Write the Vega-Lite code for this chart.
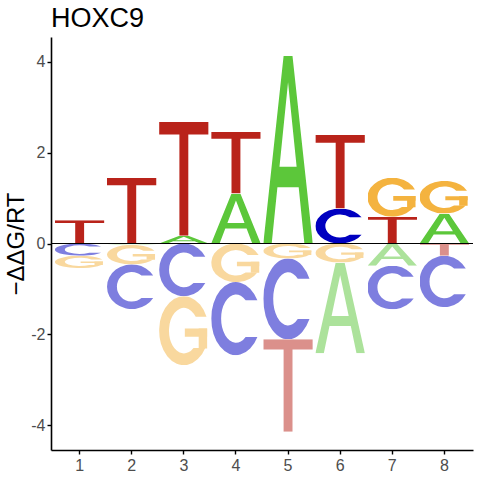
{
  "$schema": "https://vega.github.io/schema/vega-lite/v6.json",
  "description": "Energy logo for HOXC9, letter heights are -ddG/RT per position.",
  "autosize": "none",
  "width": 422,
  "height": 413,
  "padding": {"left": 51, "top": 37, "right": 7, "bottom": 30},
  "config": {
    "font": "Liberation Sans",
    "view": {"stroke": null}
  },
  "title": {
    "text": "HOXC9",
    "anchor": "start",
    "frame": "group",
    "fontSize": 27,
    "fontWeight": "normal",
    "color": "black",
    "offset": 4
  },
  "datasets": {
    "logo": [
      {"pos": 1, "letter": "T", "value": 0.51},
      {"pos": 1, "letter": "C", "value": -0.27},
      {"pos": 1, "letter": "G", "value": -0.27},
      {"pos": 2, "letter": "T", "value": 1.445},
      {"pos": 2, "letter": "A", "value": -0.03},
      {"pos": 2, "letter": "G", "value": -0.43},
      {"pos": 2, "letter": "C", "value": -0.985},
      {"pos": 3, "letter": "A", "value": 0.17},
      {"pos": 3, "letter": "T", "value": 2.51},
      {"pos": 3, "letter": "C", "value": -1.16},
      {"pos": 3, "letter": "G", "value": -1.52},
      {"pos": 4, "letter": "A", "value": 1.10},
      {"pos": 4, "letter": "T", "value": 1.36},
      {"pos": 4, "letter": "G", "value": -0.85},
      {"pos": 4, "letter": "C", "value": -1.61},
      {"pos": 5, "letter": "A", "value": 4.13},
      {"pos": 5, "letter": "G", "value": -0.33},
      {"pos": 5, "letter": "C", "value": -1.78},
      {"pos": 5, "letter": "T", "value": -2.04},
      {"pos": 6, "letter": "C", "value": 0.77},
      {"pos": 6, "letter": "T", "value": 1.63},
      {"pos": 6, "letter": "G", "value": -0.42},
      {"pos": 6, "letter": "A", "value": -2.0},
      {"pos": 7, "letter": "T", "value": 0.59},
      {"pos": 7, "letter": "G", "value": 0.86},
      {"pos": 7, "letter": "A", "value": -0.49},
      {"pos": 7, "letter": "C", "value": -0.96},
      {"pos": 8, "letter": "A", "value": 0.66},
      {"pos": 8, "letter": "G", "value": 0.72},
      {"pos": 8, "letter": "T", "value": -0.27},
      {"pos": 8, "letter": "C", "value": -1.13}
    ],
    "glyphs": [
      {"letter": "T", "url": "data:image/svg+xml;utf8,<svg xmlns='http://www.w3.org/2000/svg' width='100' height='100' viewBox='0 0 100 100' preserveAspectRatio='none'><path fill='%23B9231A' d='M0,0H100V11H59V100H41V11H0Z'/></svg>"},
      {"letter": "A", "url": "data:image/svg+xml;utf8,<svg xmlns='http://www.w3.org/2000/svg' width='100' height='100' viewBox='0 0 100 100' preserveAspectRatio='none'><path fill='%235CC73A' fill-rule='evenodd' d='M0,100L41,0H59L100,100H83L71.5,70H28.5L17,100ZM32.7,59H67.3L50,14Z'/></svg>"},
      {"letter": "C", "url": "data:image/svg+xml;utf8,<svg xmlns='http://www.w3.org/2000/svg' width='100' height='100' viewBox='0 0 100 100' preserveAspectRatio='none'><path fill='%230000C0' d='M93.3,25A50,50 0 1 0 93.3,75L69.6,75A30,33 0 1 1 69.6,25Z'/></svg>"},
      {"letter": "G", "url": "data:image/svg+xml;utf8,<svg xmlns='http://www.w3.org/2000/svg' width='100' height='100' viewBox='0 0 100 100' preserveAspectRatio='none'><g fill='%23F4B33F'><path d='M95.8,30A50,50 0 1 0 93.3,75L69.6,75A30,33 0 1 1 73.9,30Z'/><path d='M52,47H97V59H52Z'/><path d='M80,47H97V76H80Z'/></g></svg>"}
    ]
  },
  "layer": [
    {
      "data": {"name": "logo"},
      "transform": [
        {"lookup": "letter", "from": {"data": {"name": "glyphs"}, "key": "letter", "fields": ["url"]}},
        {"stack": "value", "groupby": ["pos"], "as": ["v0", "v1"]}
      ],
      "mark": {"type": "image", "aspect": false},
      "encoding": {
        "x": {
          "field": "pos",
          "type": "ordinal",
          "scale": {"paddingInner": 0.05, "paddingOuter": 0.075},
          "axis": {
            "title": null,
            "labelAngle": 0,
            "labelFontSize": 16,
            "labelColor": "#4D4D4D",
            "labelPadding": 3,
            "domainColor": "black",
            "domainWidth": 1.6,
            "tickColor": "black",
            "tickWidth": 1.4,
            "tickSize": 4
          }
        },
        "y": {
          "field": "v0",
          "type": "quantitative",
          "scale": {"domain": [-4.55, 4.55], "nice": false, "zero": false},
          "axis": {
            "title": "−ΔΔG/RT",
            "titleFontSize": 24,
            "titleFontWeight": "normal",
            "titleColor": "black",
            "titlePadding": 2,
            "values": [-4, -2, 0, 2, 4],
            "labelExpr": "replace(datum.label, '−', '-')",
            "labelFontSize": 16,
            "labelColor": "#4D4D4D",
            "labelPadding": 2,
            "grid": false,
            "domainColor": "black",
            "domainWidth": 1.6,
            "tickColor": "black",
            "tickWidth": 1.4,
            "tickSize": 4
          }
        },
        "y2": {"field": "v1"},
        "url": {"field": "url"},
        "opacity": {
          "condition": {"test": "datum.value < 0", "value": 0.5},
          "value": 1
        }
      }
    },
    {
      "data": {"values": [{}]},
      "mark": {"type": "rule", "color": "black", "strokeWidth": 1},
      "encoding": {"y": {"datum": 0}}
    }
  ]
}
